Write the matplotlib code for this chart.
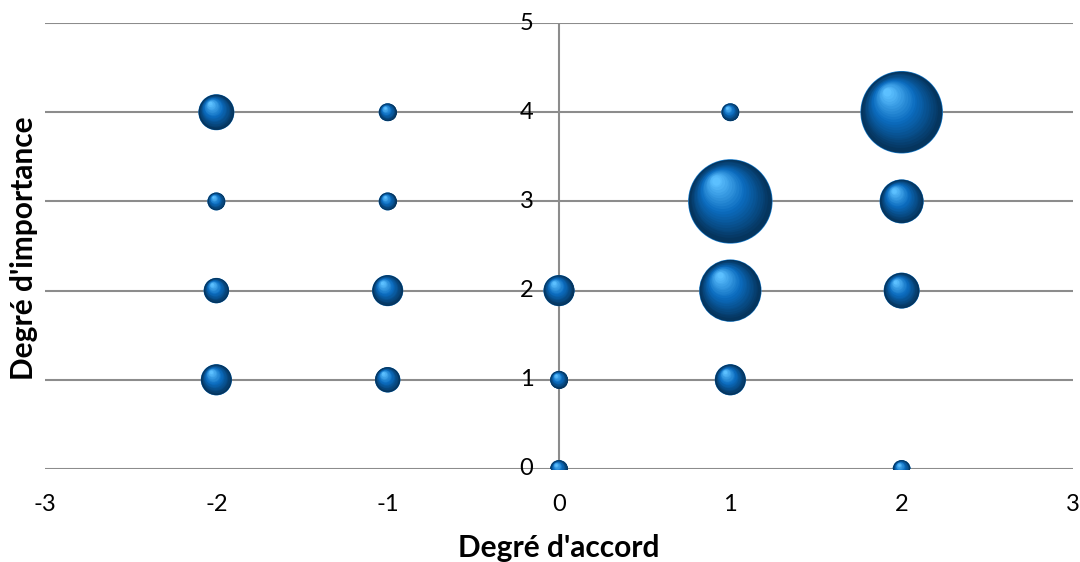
import matplotlib.pyplot as plt
import matplotlib.transforms as mtransforms
import numpy as np
from matplotlib.colors import to_rgb

plt.rcParams['font.family'] = ['Lato', 'DejaVu Sans']
plt.rcParams['axes.unicode_minus'] = False

# data: (accord, importance, count)
accord = [-2, -1, 1, 2, -2, -1, 1, 2, -2, -1, 0, 1, 2, -2, -1, 0, 1, 0, 2]
importance = [4, 4, 4, 4, 3, 3, 3, 3, 2, 2, 2, 2, 2, 1, 1, 1, 1, 0, 0]
counts = [4, 1, 1, 21, 1, 1, 22, 6, 2, 3, 3, 12, 4, 3, 2, 1, 3, 1, 1]

xticks = [-3, -2, -1, 0, 1, 2, 3]
yticks = [0, 1, 2, 3, 4, 5]

fig = plt.figure(figsize=(10.8, 5.62), dpi=100)
ax = fig.add_axes([0.0417, 0.1655, 0.9518, 0.7935])
ax.set_xlim(-3, 3)
ax.set_ylim(0, 5)

# gridlines
for y in yticks:
    ax.axhline(y, color='#8c8c8c', lw=1.5, zorder=1)
ax.axvline(0, color='#8c8c8c', lw=1.5, zorder=1)

for s in ax.spines.values():
    s.set_visible(False)

ax.set_xticks(xticks)
ax.set_yticks([])
ax.tick_params(axis='x', length=0, pad=18, labelsize=17)
for y in yticks:
    ax.text(-0.19, y, str(y), ha='center', va='center', fontsize=17, zorder=2)

# 3D-looking spheres: stacked scatter layers shifted toward upper left
scale = 168.0
sizes = np.array(counts) * scale
dark = np.array(to_rgb('#05355e'))
mid = np.array(to_rgb('#0b6cbf'))
light = np.array(to_rgb('#5cc0ff'))

ax.scatter(accord, importance, s=sizes, color='#1a7fd0', zorder=3, linewidths=0)
ax.scatter(accord, importance, s=sizes * 0.97, color=dark, zorder=3, linewidths=0)
n = 22
radii = np.sqrt(sizes) / 2  # in points
for i in range(n):
    t = i / (n - 1)
    f = 0.95 - 0.85 * t
    if t < 0.5:
        c = dark + (mid - dark) * (t / 0.5)
    else:
        c = mid + (light - mid) * ((t - 0.5) / 0.5)
    for x, y, r, s in zip(accord, importance, radii, sizes):
        off = (1 - f) * r * 0.55
        tr = mtransforms.offset_copy(ax.transData, fig=fig, x=-off * 0.7, y=off, units='points')
        ax.scatter([x], [y], s=s * f * f, color=c, zorder=4 + i, linewidths=0,
                   transform=tr)

ax.set_xlabel("Degré d'accord", fontsize=21.5, fontweight='bold', labelpad=14)
fig.text(0.022, 0.558, "Degré d'importance", rotation=90, ha='center', va='center',
         fontsize=21.5, fontweight='bold')

fig.savefig('out.png', dpi=100)
